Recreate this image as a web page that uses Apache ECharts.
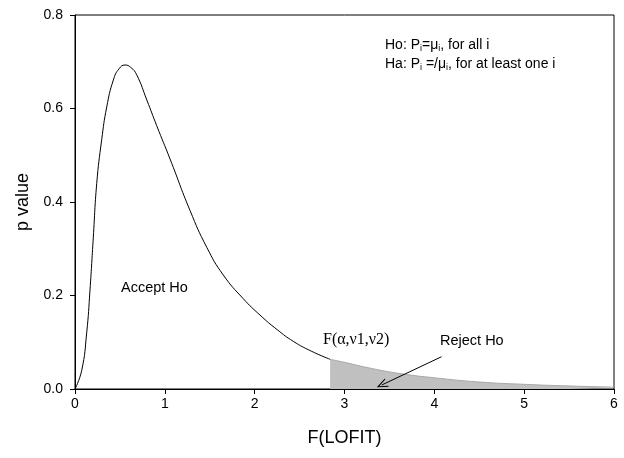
<!DOCTYPE html>
<html>
<head>
<meta charset="utf-8">
<script src="https://cdn.jsdelivr.net/npm/echarts@6/dist/echarts.min.js"></script>
<style>html,body{margin:0;padding:0;background:#fff}#c{width:624px;height:458px}</style>
</head>
<body>
<div id="c"></div>
<script>
// Curve (accept region)
const curveX = [0, 0.075, 0.13, 0.167, 0.204, 0.242, 0.297, 0.353, 0.427, 0.49, 0.557, 0.62, 0.687, 0.8, 0.91, 1.058, 1.28, 1.467, 1.65, 1.874, 2.06, 2.25, 2.43, 2.63, 2.84];
const curveY = [0, 0.04, 0.12, 0.212, 0.325, 0.44, 0.533, 0.603, 0.661, 0.685, 0.693, 0.688, 0.672, 0.618, 0.563, 0.492, 0.382, 0.303, 0.244, 0.193, 0.158, 0.127, 0.102, 0.081, 0.0635];
// Shaded rejection tail
const tailX = [2.84, 3.0, 3.3, 3.62, 4.0, 4.5, 5.0, 5.5, 6.0];
const tailY = [0.0635, 0.057, 0.044, 0.033, 0.024, 0.015, 0.010, 0.0065, 0.004];
const xTicks = ['0', '1', '2', '3', '4', '5', '6'];
const yTicks = ['0.0', '0.2', '0.4', '0.6', '0.8'];
const arrowFrom = [4.08, 0.069];
const arrowTo = [3.415, 0.0086];

const chart = echarts.init(document.getElementById('c'));
const font = 'Liberation Sans, Arial, sans-serif';
chart.setOption({
  animation: false,
  grid: { left: 75, right: 10, top: 15, bottom: 69, show: true, borderColor: '#000', borderWidth: 1, backgroundColor: 'transparent' },
  xAxis: {
    type: 'value', min: 0, max: 6, interval: 1,
    name: 'F(LOFIT)', nameLocation: 'middle', nameGap: 40,
    nameTextStyle: { fontFamily: font, fontSize: 18, color: '#000' },
    axisLine: { lineStyle: { color: '#000', width: 1 } },
    axisTick: { show: true, length: 5, inside: false, lineStyle: { color: '#000' } },
    axisLabel: { fontFamily: font, fontSize: 14, color: '#000', margin: 8, formatter: v => xTicks[Math.round(v)] },
    splitLine: { show: false }
  },
  yAxis: {
    type: 'value', min: 0, max: 0.8, interval: 0.2,
    name: 'p value', nameLocation: 'middle', nameGap: 43, nameRotate: 90,
    nameTextStyle: { fontFamily: font, fontSize: 18, color: '#000' },
    axisLine: { show: true, lineStyle: { color: '#000', width: 1 } },
    axisTick: { show: true, length: 5, inside: false, lineStyle: { color: '#000' } },
    axisLabel: { fontFamily: font, fontSize: 14, color: '#000', margin: 12, formatter: v => yTicks[Math.round(v / 0.2)] },
    splitLine: { show: false }
  },
  series: [
    {
      type: 'line', data: tailX.map((x, i) => [x, tailY[i]]),
      smooth: 0.5, symbol: 'none',
      lineStyle: { color: '#a8a8a8', width: 1 },
      areaStyle: { color: '#c0c0c0', opacity: 1 },
      z: 1,
      markLine: {
        silent: true, symbol: ['none', 'path://M0,10 L5,0 L10,10 L8.8,10 L5,2.4 L1.2,10 Z'], symbolSize: [9, 11],
        label: { show: false },
        lineStyle: { color: '#000', width: 1, type: 'solid' },
        data: [[{ coord: arrowFrom }, { coord: arrowTo }]]
      }
    },
    {
      type: 'line', data: curveX.map((x, i) => [x, curveY[i]]),
      smooth: 0.5, symbol: 'none',
      lineStyle: { color: '#000', width: 1 }, z: 3
    }
  ],
  graphic: [
    { type: 'text', x: 385, y: 45, style: { text: 'Ho: P{s|i}=μ{s|i}, for all i', fontFamily: font, fontSize: 14, fill: '#000', verticalAlign: 'middle',
      rich: { s: { fontSize: 9, padding: [8, 0, 0, 0], fontFamily: font } } } },
    { type: 'text', x: 385, y: 64, style: { text: 'Ha: P{s|i} =/μ{s|i}, for at least one i', fontFamily: font, fontSize: 14, fill: '#000', verticalAlign: 'middle',
      rich: { s: { fontSize: 9, padding: [8, 0, 0, 0], fontFamily: font } } } },
    { type: 'text', x: 121, y: 288, style: { text: 'Accept Ho', fontFamily: font, fontSize: 14.5, fill: '#000', verticalAlign: 'middle' } },
    { type: 'text', x: 323, y: 340, style: { text: 'F(α,ν1,ν2)', fontFamily: 'Liberation Serif, Times New Roman, serif', fontSize: 16, fill: '#000', verticalAlign: 'middle' } },
    { type: 'text', x: 440, y: 341, style: { text: 'Reject Ho', fontFamily: font, fontSize: 14.5, fill: '#000', verticalAlign: 'middle' } }
  ]
});
</script>
</body>
</html>
